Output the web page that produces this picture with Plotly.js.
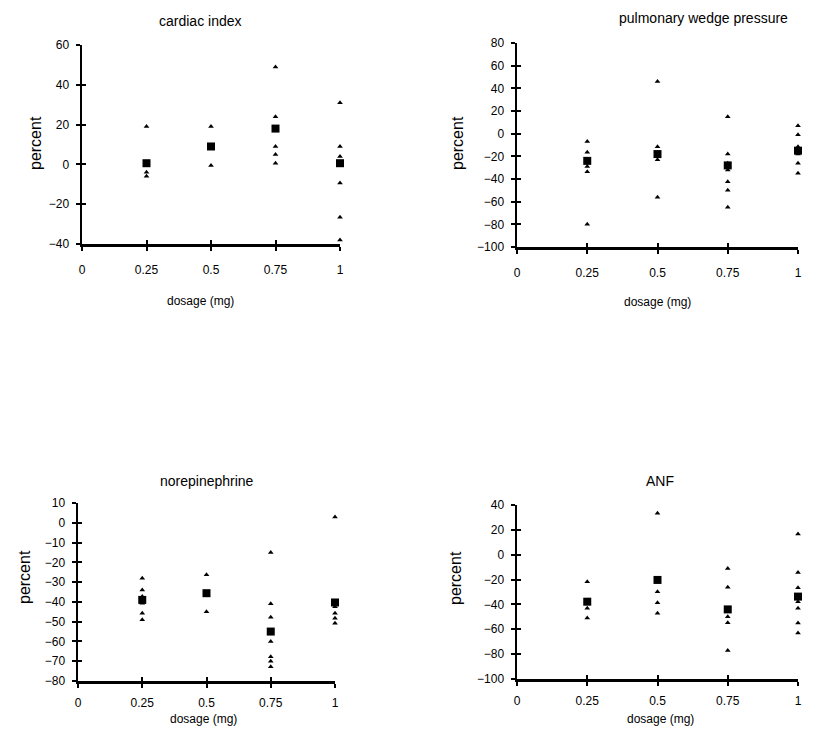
<!DOCTYPE html>
<html><head><meta charset="utf-8">
<script src="https://cdn.plot.ly/plotly-3.0.1.min.js"></script>
<style>html,body{margin:0;padding:0;background:#fff}#c{width:823px;height:733px}</style>
</head><body><div id="c"></div>
<script>
// Panel titles
const panelTitles = ["cardiac index", "pulmonary wedge pressure", "norepinephrine", "ANF"];
const xTicks = [0, 0.25, 0.5, 0.75, 1];
const xTickLabels = ["0", "0.25", "0.5", "0.75", "1"];

// cardiac index: individual values (triangles) and means (squares)
const ciIndX = [0.25,0.25,0.25, 0.5,0.5,0.5, 0.75,0.75,0.75,0.75,0.75,0.75, 1,1,1,1,1,1,1];
const ciIndY = [19,-4,-6, 19,9,-0.5, 49,24,18,9,5,0.6, 31,9,4,1,-9.4,-26.5,-38];
const ciMeanX = [0.25,0.5,0.75,1];
const ciMeanY = [0.6,9,18,0.6];

// pulmonary wedge pressure
const pwIndX = [0.25,0.25,0.25,0.25,0.25, 0.5,0.5,0.5,0.5,0.5, 0.75,0.75,0.75,0.75,0.75,0.75,0.75, 1,1,1,1,1,1];
const pwIndY = [-7,-16.5,-29,-33.6,-80, 46,-11.5,-17,-23,-56, 15,-18,-26,-32,-42.5,-50,-65, 7,-1,-11.5,-18,-26,-35];
const pwMeanX = [0.25,0.5,0.75,1];
const pwMeanY = [-24,-18,-28,-15];

// norepinephrine
const neIndX = [0.25,0.25,0.25,0.25,0.25,0.25, 0.5,0.5, 0.75,0.75,0.75,0.75,0.75,0.75,0.75, 1,1,1,1,1];
const neIndY = [-28,-34,-37.3,-40.7,-45.7,-49, -26.3,-45, -15,-41,-47.8,-60,-67.7,-70,-72.8, 2.9,-42.4,-45.7,-48.3,-50.8];
const neMeanX = [0.25,0.5,0.75,1];
const neMeanY = [-39,-35.6,-55,-40.3];

// ANF
const anfIndX = [0.25,0.25,0.25, 0.5,0.5,0.5,0.5, 0.75,0.75,0.75,0.75,0.75, 1,1,1,1,1,1,1];
const anfIndY = [-21.7,-43,-51, 33.3,-29.7,-38.6,-47, -11,-26.2,-50,-54.7,-77, 16.7,-14.4,-26.5,-37.8,-43,-55,-63];
const anfMeanX = [0.25,0.5,0.75,1];
const anfMeanY = [-37.8,-20.3,-44,-33.7];

const yRanges = [[-40,60],[-100,80],[-80,10],[-100,40]];
const yDticks = [20,20,10,20];

const panels = [
  [ciIndX,ciIndY,ciMeanX,ciMeanY],
  [pwIndX,pwIndY,pwMeanX,pwMeanY],
  [neIndX,neIndY,neMeanX,neMeanY],
  [anfIndX,anfIndY,anfMeanX,anfMeanY]
];

const W=823,H=733;
// pixel boxes [left,right,top,bottom]
const boxes = [[82,340,45,244],[517,798,43,247],[78,335,503,681],[517,798,505,679]];
const titlePos = [[200,21],[703,18],[207,481],[660,481]];
const xTitlePos = [[200,301],[657,302],[203,719],[660,719]];
const yTitlePos = [[35,143],[457,143],[24,577],[455,578]];
const font = "Liberation Sans, Arial, sans-serif";

const data=[];
const layout={width:W,height:H,margin:{l:0,r:0,t:0,b:0},showlegend:false,
  paper_bgcolor:"#fff",plot_bgcolor:"#fff",font:{family:font,color:"#000"},annotations:[]};

panels.forEach((p,i)=>{
  const n=i+1, xa='x'+(n===1?'':n), ya='y'+(n===1?'':n);
  const m=n+4, xo='x'+m, yo='y'+m;
  data.push({x:p[0],y:p[1],xaxis:xa,yaxis:ya,type:'scatter',mode:'markers',cliponaxis:false,
    marker:{symbol:'triangle-up',size:5,color:'#000'}});
  data.push({x:p[2],y:p[3],xaxis:xa,yaxis:ya,type:'scatter',mode:'markers',cliponaxis:false,
    marker:{symbol:'square',size:8,color:'#000'}});
  data.push({x:[],y:[],xaxis:xo,yaxis:yo,type:'scatter',mode:'markers',hoverinfo:'skip'});
  const b=boxes[i];
  const xd=[b[0]/W,b[1]/W], yd=[1-b[3]/H,1-b[2]/H];
  const lab=(i<2?9:5);
  layout['xaxis'+(n===1?'':n)]={domain:xd,range:[0,1],anchor:ya,
    tickvals:xTicks,ticktext:xTickLabels,showgrid:false,zeroline:false,showline:true,
    linecolor:'#000',linewidth:2.5,ticks:'outside',ticklen:4,tickwidth:2,tickcolor:'#000',
    ticklabelstandoff:lab,tickfont:{size:12,family:font,color:'#000'}};
  layout['yaxis'+(n===1?'':n)]={domain:yd,range:yRanges[i],anchor:xa,
    dtick:yDticks[i],tick0:0,showgrid:false,zeroline:false,showline:true,
    linecolor:'#000',linewidth:2.5,ticks:'outside',ticklen:4,tickwidth:2,tickcolor:'#000',
    ticklabelstandoff:4,tickfont:{size:12,family:font,color:'#000'}};
  // overlay axes give the inward half of the crossing tick marks
  layout['xaxis'+m]={domain:xd,range:[0,1],anchor:yo,overlaying:xa,
    tickvals:xTicks,showticklabels:false,showgrid:false,zeroline:false,showline:false,
    ticks:'inside',ticklen:4,tickwidth:2,tickcolor:'#000'};
  layout['yaxis'+m]={domain:yd,range:yRanges[i],anchor:xo,overlaying:ya,
    dtick:yDticks[i],tick0:0,showticklabels:false,showgrid:false,zeroline:false,showline:false,
    ticks:'inside',ticklen:4,tickwidth:2,tickcolor:'#000'};
  layout.annotations.push({text:panelTitles[i],xref:'paper',yref:'paper',
    x:titlePos[i][0]/W, y:1-titlePos[i][1]/H,
    showarrow:false,font:{size:14,family:font,color:'#000'},xanchor:'center',yanchor:'middle'});
  layout.annotations.push({text:'dosage (mg)',xref:'paper',yref:'paper',
    x:xTitlePos[i][0]/W, y:1-xTitlePos[i][1]/H,
    showarrow:false,font:{size:12,family:font,color:'#000'},xanchor:'center',yanchor:'middle'});
  layout.annotations.push({text:'percent',xref:'paper',yref:'paper',textangle:-90,
    x:yTitlePos[i][0]/W, y:1-yTitlePos[i][1]/H,
    showarrow:false,font:{size:16,family:font,color:'#000'},xanchor:'center',yanchor:'middle'});
});

Plotly.newPlot('c',data,layout,{displayModeBar:false,staticPlot:true});
</script></body></html>
